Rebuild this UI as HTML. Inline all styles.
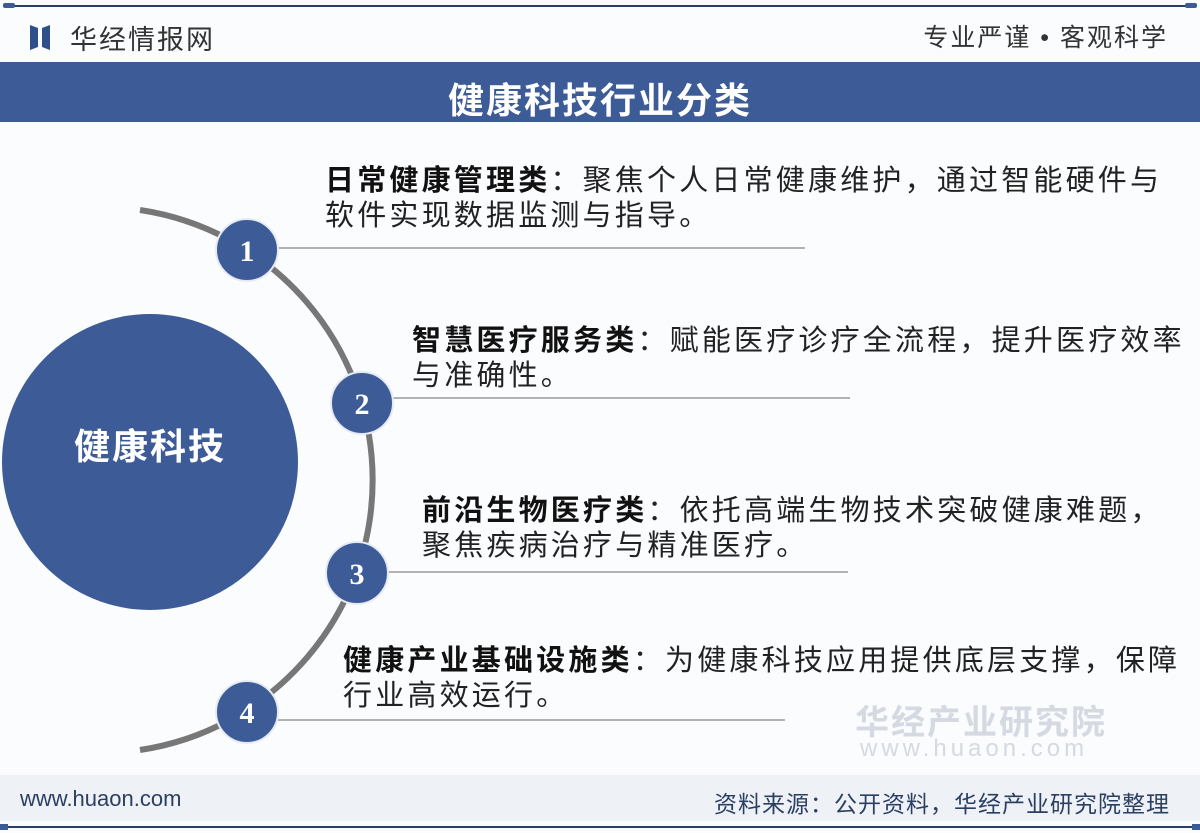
<!DOCTYPE html>
<html><head><meta charset="utf-8"><style>
body{margin:0;width:1200px;height:833px;position:relative;background:#fbfcfe;font-family:"Liberation Sans","Noto Sans CJK SC",sans-serif;overflow:hidden}
.t{position:absolute;font-size:29px;letter-spacing:3.2px;color:#222;line-height:35px;white-space:nowrap}
.t b{font-weight:bold;color:#111}
</style></head><body>
<svg width="1200" height="833" style="position:absolute;left:0;top:0">
<line x1="6" y1="6" x2="1194" y2="6" stroke="#2b3f63" stroke-width="2"/>
<rect x="3" y="3" width="12" height="5" rx="2" fill="#3d5c97"/>
<rect x="1185" y="3" width="12" height="5" rx="2" fill="#3d5c97"/>
<polygon points="30,25 38,28 38,47 30,50" fill="#2f4f8a"/>
<polygon points="42,28 50,25 50,50 42,47" fill="#2f4f8a"/>
<rect x="0" y="62" width="1200" height="60" fill="#3d5c97"/>
<path d="M140,210 A273,273 0 0 1 140,750" fill="none" stroke="#777" stroke-width="6"/>
<circle cx="150" cy="462" r="148" fill="#3d5c97"/>
<g stroke="#999" stroke-width="1.5">
<line x1="275" y1="248" x2="805" y2="248"/>
<line x1="390" y1="398" x2="850" y2="398"/>
<line x1="385" y1="572" x2="848" y2="572"/>
<line x1="275" y1="720" x2="785" y2="720"/>
</g>
<g fill="#3d5c97" stroke="#e6ebf3" stroke-width="2">
<circle cx="247" cy="250" r="31"/>
<circle cx="362" cy="403" r="31"/>
<circle cx="357" cy="573" r="31"/>
<circle cx="247" cy="712" r="31"/>
</g>
<g fill="#fff" font-family="Liberation Serif,serif" font-weight="bold" font-size="30" text-anchor="middle">
<text x="247" y="261">1</text><text x="362" y="414">2</text><text x="357" y="584">3</text><text x="247" y="723">4</text>
</g>
<rect x="0" y="775" width="1200" height="46" fill="#eef1f6"/>
<line x1="4" y1="827" x2="1196" y2="827" stroke="#2b3f63" stroke-width="2"/>
<rect x="0" y="824" width="8" height="6" fill="#3d5c97"/><rect x="1192" y="824" width="8" height="6" fill="#3d5c97"/>
</svg>
<div style="position:absolute;left:70px;top:18px;font-size:27px;color:#333;letter-spacing:2px">华经情报网</div>
<div style="position:absolute;right:32px;top:18px;font-size:25px;color:#333;letter-spacing:2px">专业严谨 • 客观科学</div>
<div style="position:absolute;left:0;width:1200px;top:72px;text-align:center;font-size:36px;font-weight:bold;color:#fff;letter-spacing:2px">健康科技行业分类</div>
<div style="position:absolute;left:2px;width:296px;top:418px;text-align:center;font-size:36px;font-weight:bold;color:#fff;letter-spacing:2px">健康科技</div>
<div class="t" style="left:325px;top:164px"><b>日常健康管理类</b>：聚焦个人日常健康维护，通过智能硬件与<br>软件实现数据监测与指导。</div>
<div class="t" style="left:412px;top:324px"><b>智慧医疗服务类</b>：赋能医疗诊疗全流程，提升医疗效率<br>与准确性。</div>
<div class="t" style="left:422px;top:494px"><b>前沿生物医疗类</b>：依托高端生物技术突破健康难题，<br>聚焦疾病治疗与精准医疗。</div>
<div class="t" style="left:343px;top:644px"><b>健康产业基础设施类</b>：为健康科技应用提供底层支撑，保障<br>行业高效运行。</div>
<div style="position:absolute;left:855px;top:695px;font-size:34px;font-weight:bold;color:#d4d9e2;letter-spacing:2px">华经产业研究院</div>
<div style="position:absolute;left:860px;top:735px;font-size:24px;color:#d4d9e2;letter-spacing:4px">www.huaon.com</div>
<div style="position:absolute;left:20px;top:786px;font-size:22px;color:#2b3f63">www.huaon.com</div>
<div style="position:absolute;right:30px;top:785px;font-size:23px;color:#2b3f63;letter-spacing:1px">资料来源：公开资料，华经产业研究院整理</div>
</body></html>
